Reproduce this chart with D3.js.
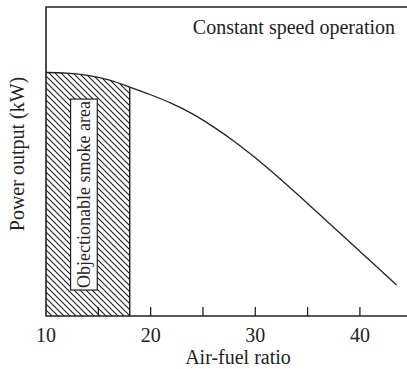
<!DOCTYPE html>
<html>
<head>
<meta charset="utf-8">
<script src="https://cdn.jsdelivr.net/npm/d3@7"></script>
<style>
  html, body { margin: 0; padding: 0; background: #fff; }
  svg text { font-family: "Liberation Serif", "DejaVu Serif", serif; fill: #222; }
</style>
</head>
<body>
<div id="chart"></div>
<script>
// air-fuel ratio vs power output
var afr = [10, 12, 14, 16, 18, 20, 22, 24, 26, 28, 30, 32, 34, 36, 38, 40, 42, 43.5];
var power = [78.8, 78.6, 77.9, 76.4, 74.1, 71.6, 68.8, 65.4, 61.2, 56.5, 51.2, 45.5, 39.5, 33.3, 27.1, 20.9, 14.7, 10.0];
var tickValues = [15, 20, 25, 30, 35, 40];
var tickLabels = [10, 20, 30, 40];
var smokeLimit = 18;

var w = 407, h = 369;
var padLeft = 46, padTop = 7, axisY = 316;

var svg = d3.select("#chart")
    .append("svg")
    .attr("width", w)
    .attr("height", h);

var x = d3.scaleLinear().domain([10, 44.5]).range([padLeft, w]);
var y = d3.scaleLinear().domain([0, 100]).range([axisY, padTop]);

var data = afr.map(function (d, i) { return { a: d, p: power[i] }; });

// hatch pattern
svg.append("defs")
    .append("pattern")
    .attr("id", "hatch")
    .attr("patternUnits", "userSpaceOnUse")
    .attr("width", 6)
    .attr("height", 6)
    .append("path")
    .attr("d", "M0,0 L6,6 M-1,5 L1,7 M5,-1 L7,1")
    .style("stroke", "#222")
    .style("stroke-width", 1.15);

var smoke = data.filter(function (d) { return d.a <= smokeLimit; });

svg.append("path")
    .datum(smoke)
    .attr("d", d3.area()
        .x(function (d) { return x(d.a); })
        .y0(y(0))
        .y1(function (d) { return y(d.p); })
        .curve(d3.curveMonotoneX))
    .style("fill", "url(#hatch)");

// right edge of smoke area
svg.append("line")
    .attr("x1", x(smokeLimit)).attr("x2", x(smokeLimit))
    .attr("y1", y(0)).attr("y2", y(power[afr.indexOf(smokeLimit)]))
    .style("stroke", "#222")
    .style("stroke-width", 1.5);

// curve
svg.append("path")
    .datum(data)
    .attr("d", d3.line()
        .x(function (d) { return x(d.a); })
        .y(function (d) { return y(d.p); })
        .curve(d3.curveMonotoneX))
    .style("fill", "none")
    .style("stroke", "#222")
    .style("stroke-width", 1.3);

// label box
svg.append("rect")
    .attr("x", x(12.35))
    .attr("y", y(70.2))
    .attr("width", x(14.9) - x(12.35))
    .attr("height", y(8.4) - y(70.2))
    .style("fill", "#fff")
    .style("stroke", "#222")
    .style("stroke-width", 1.2);

svg.append("text")
    .text("Objectionable smoke area")
    .attr("transform", "translate(" + ((x(12.35) + x(14.9)) / 2 + 6.5) + "," + ((y(70.2) + y(8.4)) / 2) + ") rotate(-90)")
    .attr("text-anchor", "middle")
    .style("font-size", "18px");

// frame: left, top, bottom
svg.append("path")
    .attr("d", "M" + w + "," + padTop + " L" + padLeft + "," + padTop + " L" + padLeft + "," + axisY + " L" + w + "," + axisY)
    .style("fill", "none")
    .style("stroke", "#222")
    .style("stroke-width", 1.6);

// inward ticks
svg.selectAll("line.tick")
    .data(tickValues)
    .enter()
    .append("line")
    .attr("class", "tick")
    .attr("x1", function (d) { return x(d); })
    .attr("x2", function (d) { return x(d); })
    .attr("y1", axisY)
    .attr("y2", axisY - 9)
    .style("stroke", "#222")
    .style("stroke-width", 1.3);

svg.selectAll("text.ticklabel")
    .data(tickLabels)
    .enter()
    .append("text")
    .attr("class", "ticklabel")
    .text(function (d) { return d; })
    .attr("x", function (d) { return x(d); })
    .attr("y", 342)
    .attr("text-anchor", "middle")
    .style("font-size", "20px");

svg.append("text")
    .text("Air-fuel ratio")
    .attr("x", 238)
    .attr("y", 364)
    .attr("text-anchor", "middle")
    .style("font-size", "20px");

svg.append("text")
    .text("Power output (kW)")
    .attr("transform", "translate(24,154) rotate(-90)")
    .attr("text-anchor", "middle")
    .style("font-size", "20px");

svg.append("text")
    .text("Constant speed operation")
    .attr("x", 395)
    .attr("y", 34)
    .attr("text-anchor", "end")
    .style("font-size", "20px");
</script>
</body>
</html>
